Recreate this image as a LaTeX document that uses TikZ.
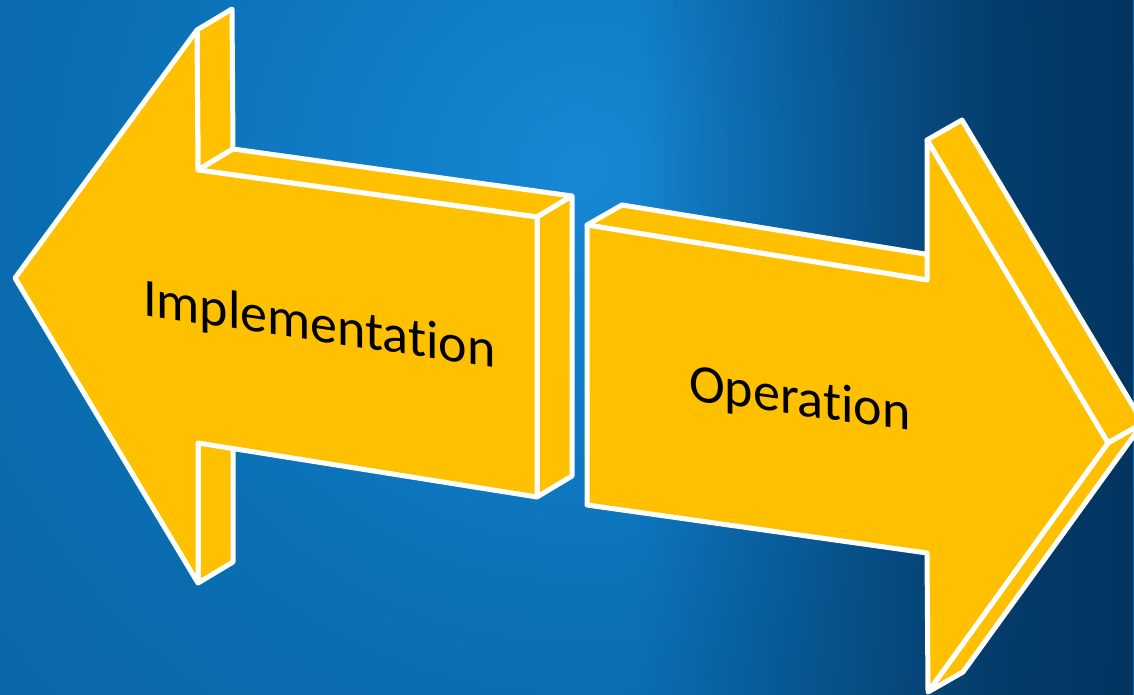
\documentclass[tikz,border=0pt]{standalone}
\usepackage{fontspec}
\setmainfont{Carlito}[Ligatures=NoCommon]
\usetikzlibrary{fadings}
\definecolor{gold}{HTML}{FFC000}
\definecolor{bgbase}{HTML}{09548E}
\definecolor{bgdark}{HTML}{03305A}
\definecolor{g0}{HTML}{1888D4}
\definecolor{g1}{HTML}{117FCA}
\definecolor{g2}{HTML}{0A6EB2}
\definecolor{g3}{HTML}{0C64A2}
\definecolor{g4}{HTML}{0A5C98}
\pgfdeclareradialshading{bgglow}{\pgfpoint{0bp}{0bp}}{color(0bp)=(g0); color(4.4bp)=(g1); color(13.9bp)=(g2); color(25bp)=(g3); color(36bp)=(g4); color(50bp)=(bgbase)}
\pgfdeclarehorizontalshading{rfadesh}{100bp}{color(0bp)=(black); color(32bp)=(black); color(63bp)=(white!80!black); color(75bp)=(white!92!black); color(100bp)=(white!92!black)}
\pgfdeclarefading{rfade}{\pgfuseshading{rfadesh}}
\begin{document}
\begin{tikzpicture}[x=1pt,y=-1pt,
  face/.style={fill=gold, draw=white, line width=5pt, line join=round},
  lbl/.style={font=\fontsize{54}{60}\selectfont, text=black, inner sep=0pt}]
\useasboundingbox (0,0) rectangle (1134,695);
\clip (0,0) rectangle (1134,695);
% background
\fill[bgbase] (0,0) rectangle (1134,695);
\shade[shading=bgglow] (580,170) circle (900pt);
\fill[bgdark, path fading=rfade] (560,0) rectangle (1134,695);
% left arrow coordinates
\coordinate (L1) at (15,278);
\coordinate (L2) at (197,30);
\coordinate (L3) at (198,170);
\coordinate (L4) at (537,217);
\coordinate (L5) at (537,497);
\coordinate (L6) at (198,443);
\coordinate (L7) at (198,583);
\coordinate (L2b) at (232,9);
\coordinate (L3b) at (233,149);
\coordinate (L4b) at (572,196);
\coordinate (L5b) at (572,476);
\coordinate (L6b) at (233,422);
\coordinate (L7b) at (233,562);
% left arrow faces
\draw[face] (L2) -- (L2b) -- (L3b) -- (L3) -- cycle;
\draw[face] (L3) -- (L3b) -- (L4b) -- (L4) -- cycle;
\draw[face] (L4) -- (L4b) -- (L5b) -- (L5) -- cycle;
\draw[face] (L6) -- (L6b) -- (L7b) -- (L7) -- cycle;
\draw[face] (L1) -- (L2) -- (L3) -- (L4) -- (L5) -- (L6) -- (L7) -- cycle;
% right arrow coordinates
\coordinate (R1) at (587,225);
\coordinate (R2) at (927,280);
\coordinate (R3) at (927,140);
\coordinate (R4) at (1108,443);
\coordinate (R5) at (928,692);
\coordinate (R6) at (927,553);
\coordinate (R7) at (587,505);
\coordinate (R1b) at (622,205);
\coordinate (R2b) at (962,260);
\coordinate (R3b) at (962,120);
\coordinate (R4b) at (1143,423);
\coordinate (R5b) at (963,672);
% right arrow faces
\draw[face] (R1) -- (R1b) -- (R2b) -- (R2) -- cycle;
\draw[face] (R3) -- (R3b) -- (R4b) -- (R4) -- cycle;
\draw[face] (R4) -- (R4b) -- (R5b) -- (R5) -- cycle;
\draw[face] (R1) -- (R2) -- (R3) -- (R4) -- (R5) -- (R6) -- (R7) -- cycle;
% labels
\node[lbl, anchor=base west, yslant=-0.15] (impl) at (143,315) {Implementation};
\node[lbl, anchor=base west, yslant=-0.138] (oper) at (689,400) {Operation};
\end{tikzpicture}
\end{document}
